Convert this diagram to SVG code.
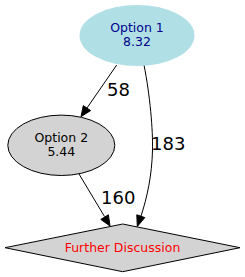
<svg xmlns="http://www.w3.org/2000/svg" width="245" height="277" viewBox="0 0 245 277">
<style>
.nt{font-family:"DejaVu Sans",sans-serif;font-size:12.5px;text-anchor:middle}
.el{font-family:"DejaVu Sans",sans-serif;font-size:18px;text-anchor:start;fill:#000}
.edge path{fill:none;stroke:#000;stroke-width:1}
.edge polygon{fill:#000;stroke:#000;stroke-width:1}
</style>
<rect width="245" height="277" fill="#fff"/>
<g id="edges" class="edge">
<path d="M116.7,65 L87,108"/>
<polygon points="81,116.7 83.3,105.6 90.6,110.6"/>
<path d="M144,65 C150,95 153,130 152.5,150 C152,175 147,198 141,216"/>
<polygon points="137.3,226.5 136.8,214.8 144.8,217.6"/>
<path d="M79,174 L104.5,216.5"/>
<polygon points="110,226 100.8,219.4 108.4,214.8"/>
<text class="el" x="107" y="95.5">58</text>
<text class="el" x="151" y="150">183</text>
<text class="el" x="101" y="204.3">160</text>
</g>
<g id="option1">
<ellipse cx="137" cy="35.5" rx="57.5" ry="30.5" fill="#b0e0e6"/>
<text class="nt" x="137" y="32.3" fill="#00008b">Option 1</text>
<text class="nt" x="137" y="46" fill="#00008b">8.32</text>
</g>
<g id="option2">
<ellipse cx="61.3" cy="145.3" rx="53.5" ry="30.2" fill="#d3d3d3" stroke="#000"/>
<text class="nt" x="61.3" y="141.7" fill="#000">Option 2</text>
<text class="nt" x="61.3" y="155.7" fill="#000">5.44</text>
</g>
<g id="further">
<polygon points="122.7,224 240,247.7 122.7,271.7 5,247.7" fill="#d3d3d3" stroke="#000"/>
<text class="nt" x="122.5" y="251.7" fill="#ff0000">Further Discussion</text>
</g>
</svg>
